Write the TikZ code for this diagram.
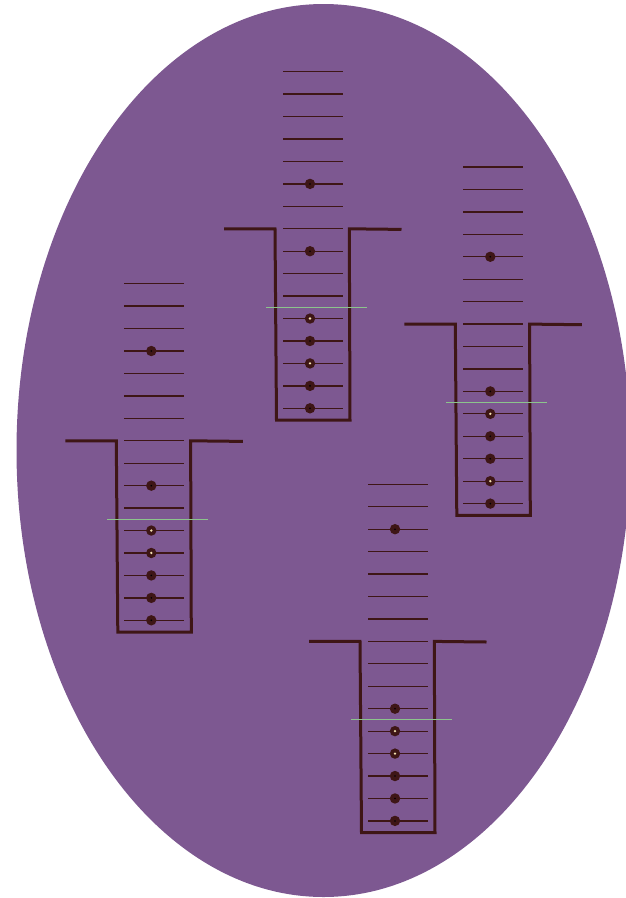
\documentclass[tikz,border=0pt]{standalone}
\usepackage{tikz}
\definecolor{platepurple}{RGB}{125,88,145}
\definecolor{wellbrown}{RGB}{62,22,22}
\definecolor{levelgreen}{RGB}{140,196,140}
\definecolor{corecream}{RGB}{246,226,178}

% one well: #1 left x of rungs, #2 y of top rung, #3 rungs with a bead, #4 beads with a pale core
\newcommand{\drawwell}[4]{%
  \begin{scope}[shift={(#1,#2)}]
    \foreach \k in {0,...,15} \draw[rung] (0,\k*22.44) -- (60,\k*22.44);
    \draw[wall] (-59,157.1) -- (-8,157.1) -- (-6.5,348.3) -- (67,348.3) -- (66.3,157.1) -- (118.5,157.7);
    \draw[level] (-17,235.6) -- (83.7,235.6);
    \foreach \k in {#3} {
      \fill[bead] (27,\k*22.44) circle (5.2);
      \fill[black] (27,\k*22.44) circle (0.9);
    }
    \foreach \k in {#4} \fill[corecream] (27,\k*22.44) circle (1.3);
  \end{scope}}

\begin{document}
\begin{tikzpicture}[x=1pt, y=-1pt,
    rung/.style={draw=wellbrown, line width=1.3pt},
    wall/.style={draw=wellbrown, line width=3pt, line join=miter},
    level/.style={draw=levelgreen, line width=1pt},
    bead/.style={fill=wellbrown}]
  \useasboundingbox (0,0) rectangle (626,898);
  % the plate
  \begin{scope}
    \clip (0,0) rectangle (626,898);
    \fill[platepurple] (323.5,450.5) ellipse [x radius=307, y radius=446.5];
  \end{scope}
  % the four wells
  \drawwell{283}{71.7}{5,8,11,12,13,14,15}{11,13}
  \drawwell{124.3}{283.7}{3,9,11,12,13,14,15}{11,12}
  \drawwell{463.3}{167}{4,10,11,12,13,14,15}{11,14}
  \drawwell{368}{484.3}{2,10,11,12,13,14,15}{11,12}
\end{tikzpicture}
\end{document}
